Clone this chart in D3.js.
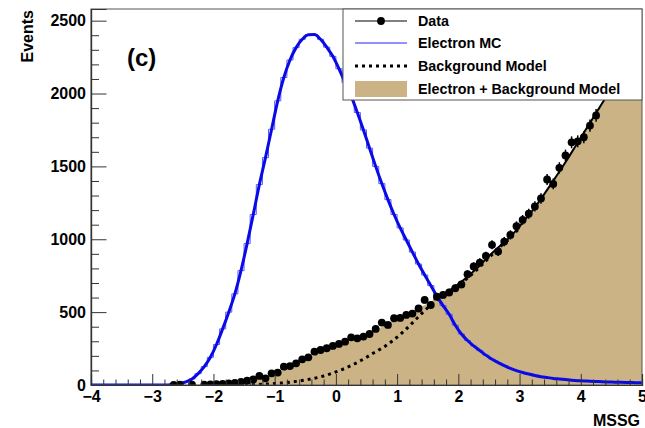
<!DOCTYPE html>
<html>
<head>
<meta charset="utf-8">
<script src="https://cdn.jsdelivr.net/npm/d3@7"></script>
<style>
  body { margin: 0; background: #fff; }
  text { font-family: "Liberation Sans", Arial, Helvetica, sans-serif; font-weight: bold; fill: #000; }
</style>
</head>
<body>
<svg id="chart" width="645" height="428"></svg>
<script>
// ---- data ----
const xTicks = [-4, -3, -2, -1, 0, 1, 2, 3, 4, 5];
const yTicks = [0, 500, 1000, 1500, 2000, 2500];
const binWidth = 0.1;

// Electron MC histogram, 90 bins of 0.1 from -4 to 5 (bin contents)
const mcValues = [
  0, 0, 0, 0, 0, 0, 0, 0, 0, 0, 0, 0, 0,
  3, 10, 22, 42, 78, 126, 190, 278, 385, 500,
  625, 785, 970, 1170, 1375, 1560, 1755, 1950, 2110, 2230,
  2315, 2372, 2403, 2405, 2372, 2318, 2255, 2170, 2075, 1982,
  1870, 1750, 1625, 1500, 1382, 1272, 1170, 1078, 995, 912,
  830, 755, 682, 610, 545, 485, 410, 350, 305, 268,
  237, 205, 177, 154, 133, 114, 99, 86, 75, 65,
  57, 51, 45, 41, 37, 33, 30, 28, 26, 24,
  22, 20.5, 19.5, 18.5, 17.5, 16.5, 15.5
];

// Data points (bin centres and counts)
const dataX = [-2.65, -2.55, -2.35,
  -2.15, -2.05, -1.95, -1.85, -1.75, -1.65, -1.55, -1.45, -1.35, -1.25,
  -1.15, -1.05, -0.95, -0.85, -0.75, -0.65, -0.55, -0.45, -0.35, -0.25,
  -0.15, -0.05, 0.05, 0.15, 0.25, 0.35, 0.45, 0.55, 0.65, 0.75,
  0.85, 0.95, 1.05, 1.15, 1.25, 1.35, 1.45, 1.55, 1.65, 1.75,
  1.85, 1.95, 2.05, 2.15, 2.25, 2.35, 2.45, 2.55, 2.65, 2.75,
  2.85, 2.95, 3.05, 3.15, 3.25, 3.35, 3.45, 3.55, 3.65, 3.75,
  3.85, 3.95, 4.05, 4.15, 4.25];
const dataY = [1, 2, 2,
  3, 4, 6, 8, 11, 14, 22, 30, 38, 62,
  46, 80, 85, 126, 130, 149, 176, 190, 229, 240,
  252, 268, 282, 297, 327, 320, 332, 350, 385, 428,
  412, 458, 460, 481, 490, 525, 584, 549, 606, 618,
  635, 664, 690, 760, 813, 840, 885, 962, 916, 984,
  1030, 1090, 1133, 1175, 1225, 1280, 1410, 1380, 1490, 1575,
  1665, 1672, 1700, 1780, 1850];

// Electron + background model (x from -2.7 to 5.0 in steps of 0.1)
const fitY = [
  0, 1, 2, 2, 3, 3, 4, 5, 7, 9,
  12, 15, 20, 27, 37, 48, 60, 75, 92, 110,
  130, 150, 172, 195, 215, 235, 253, 268, 283, 298,
  313, 328, 345, 365, 387, 410, 433, 455, 475, 495,
  515, 538, 560, 585, 610, 635, 662, 692, 725, 762,
  800, 842, 885, 925, 962, 998, 1040, 1088, 1140, 1192,
  1248, 1308, 1370, 1432, 1496, 1562, 1630, 1697, 1765, 1832,
  1900, 1968, 2040, 2115, 2190, 2270, 2350, 2430];

// Background model (x from -1.6 to 3.0 in steps of 0.1)
const bgY = [
  0, 1, 2, 3, 5, 7, 10, 13, 17, 22,
  27, 34, 42, 51, 62, 75, 90, 106, 124, 144,
  166, 190, 216, 240, 265, 295, 328, 365, 405, 447,
  490, 530, 568, 600, 628, 655, 684, 716, 752, 790,
  831, 873, 915, 955, 990, 1032, 1080];

const mcCentres = mcValues.map((_, i) => -4 + binWidth * (i + 0.5));
const fitX = fitY.map((_, i) => -2.7 + 0.1 * i);
const bgX = bgY.map((_, i) => -1.6 + 0.1 * i);

// ---- layout ----
const svg = d3.select("#chart");
const L = 91, R = 642, T = 9, B = 385;
const x = d3.scaleLinear().domain([-4, 5]).range([L, R]);
const y = d3.scaleLinear().domain([0, 2580]).range([B, T]);

svg.append("defs").append("clipPath").attr("id", "plotclip")
  .append("rect").attr("x", L).attr("y", T).attr("width", R - L).attr("height", B - T);

const plot = svg.append("g").attr("clip-path", "url(#plotclip)");

// Electron + background model fill
const fitPts = fitX.map((v, i) => [v, fitY[i]]);
fitPts.push([5, fitY[fitY.length - 1]]);
plot.append("path")
  .datum(fitPts)
  .attr("fill", "#cbb385")
  .attr("d", d3.area().x(d => x(d[0])).y0(y(0)).y1(d => y(d[1])).curve(d3.curveMonotoneX));

// Background model (dotted)
plot.append("path")
  .datum(bgX.map((v, i) => [v, bgY[i]]))
  .attr("fill", "none").attr("stroke", "#000").attr("stroke-width", 3)
  .attr("stroke-dasharray", "3,4")
  .attr("d", d3.line().x(d => x(d[0])).y(d => y(d[1])).curve(d3.curveMonotoneX));

// Electron MC: thin histogram steps and smooth thick curve
const mcPts = mcCentres.map((c, i) => [c, mcValues[i]]);
plot.append("path")
  .datum(mcPts)
  .attr("fill", "none").attr("stroke", "#5a5aff").attr("stroke-width", 1)
  .attr("d", d3.line().x(d => x(d[0])).y(d => y(d[1])).curve(d3.curveStep));
plot.append("path")
  .datum([[-4, 0], ...mcPts, [5, mcValues[mcValues.length - 1]]])
  .attr("fill", "none").attr("stroke", "#0a0ae6").attr("stroke-width", 3)
  .attr("d", d3.line().x(d => x(d[0])).y(d => y(d[1])).curve(d3.curveMonotoneX));

// Fit curve over the upper range
plot.append("path")
  .datum(fitPts.filter(d => d[0] >= 1.55))
  .attr("fill", "none").attr("stroke", "#000").attr("stroke-width", 2)
  .attr("d", d3.line().x(d => x(d[0])).y(d => y(d[1])).curve(d3.curveMonotoneX));

// Data with statistical error bars
const pts = plot.append("g");
dataX.forEach((cx, i) => {
  const v = dataY[i], e = Math.sqrt(v);
  pts.append("line")
    .attr("x1", x(cx)).attr("x2", x(cx))
    .attr("y1", y(v - e)).attr("y2", y(v + e))
    .attr("stroke", "#000").attr("stroke-width", 1.5);
  pts.append("circle")
    .attr("cx", x(cx)).attr("cy", y(v)).attr("r", 3.9).attr("fill", "#000");
});

// ---- frame and axes ----
svg.append("rect").attr("x", L).attr("y", T).attr("width", R - L).attr("height", B - T)
  .attr("fill", "none").attr("stroke", "#555").attr("stroke-width", 1);

const yMinor = d3.range(0, 2580, 100).filter(v => v % 500 !== 0);
const xMinor = d3.range(-4, 5.001, 0.2).filter(v => Math.abs(v - Math.round(v)) > 1e-6);

svg.append("g").attr("transform", `translate(${L},0)`)
  .call(d3.axisLeft(y).tickValues(yTicks).tickSize(-15.5).tickPadding(5).tickFormat(d3.format("d")));
svg.append("g").attr("transform", `translate(${L},0)`)
  .call(d3.axisLeft(y).tickValues(yMinor).tickSize(-8).tickFormat(""));
svg.append("g").attr("transform", `translate(0,${B})`)
  .call(d3.axisBottom(x).tickValues(xTicks).tickSize(-11).tickPadding(6).tickFormat(d3.format("d")));
svg.append("g").attr("transform", `translate(0,${B})`)
  .call(d3.axisBottom(x).tickValues(xMinor).tickSize(-5.5).tickFormat(""));

svg.selectAll(".domain").attr("stroke", "#333").attr("stroke-width", 1.2);
svg.selectAll(".tick line").attr("stroke", "#333").attr("stroke-width", 1);
svg.selectAll(".tick text").style("font-size", "16px").style("font-weight", "bold")
  .style("font-family", '"Liberation Sans", Arial, sans-serif').attr("fill", "#000");

// Axis titles and panel label
svg.append("text").attr("transform", "translate(33,10) rotate(-90)")
  .attr("text-anchor", "end").style("font-size", "16px").text("Events");
svg.append("text").attr("x", 640).attr("y", 426).attr("text-anchor", "end")
  .style("font-size", "16px").text("MSSG");
svg.append("text").attr("x", 127).attr("y", 66).style("font-size", "24px").text("(c)");

// ---- legend ----
const leg = svg.append("g");
leg.append("rect").attr("x", 343).attr("y", T).attr("width", R - 343).attr("height", 91)
  .attr("fill", "#fff").attr("stroke", "#555").attr("stroke-width", 1);
const entries = ["Data", "Electron MC", "Background Model", "Electron + Background Model"];
const rowY = [21, 43, 66, 89];
entries.forEach((t, i) => {
  leg.append("text").attr("x", 418).attr("y", rowY[i] + 5).style("font-size", "14.3px").text(t);
});
leg.append("line").attr("x1", 355).attr("x2", 407).attr("y1", rowY[0]).attr("y2", rowY[0])
  .attr("stroke", "#000").attr("stroke-width", 1);
leg.append("circle").attr("cx", 381).attr("cy", rowY[0]).attr("r", 3.9).attr("fill", "#000");
leg.append("line").attr("x1", 355).attr("x2", 407).attr("y1", rowY[1]).attr("y2", rowY[1])
  .attr("stroke", "#2020ff").attr("stroke-width", 1);
leg.append("line").attr("x1", 355).attr("x2", 407).attr("y1", rowY[2]).attr("y2", rowY[2])
  .attr("stroke", "#000").attr("stroke-width", 3).attr("stroke-dasharray", "3,4");
leg.append("rect").attr("x", 355).attr("y", 81).attr("width", 52).attr("height", 16)
  .attr("fill", "#cbb385");
</script>
</body>
</html>
